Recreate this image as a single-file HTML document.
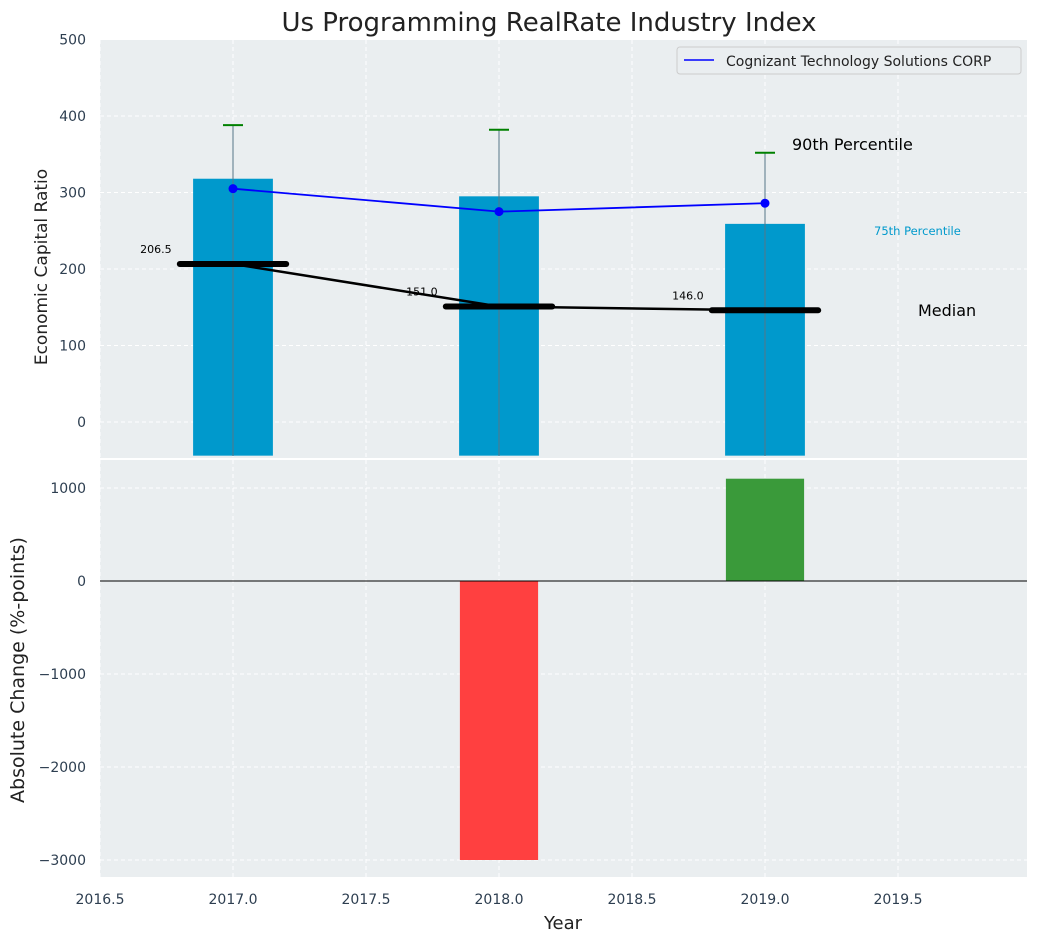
<!DOCTYPE html>
<html><head><meta charset="utf-8"><style>
body{margin:0;background:#fff;font-family:"Liberation Sans","DejaVu Sans",sans-serif}
svg text{font-family:"DejaVu Sans","Liberation Sans",sans-serif}
</style></head><body>
<svg id="c" width="1039" height="942" xmlns="http://www.w3.org/2000/svg"></svg>
<script>
const years=[2017,2018,2019];
const p75=[318,295,259];
const p90=[388,382,352];
const company=[305,275,286];
const medians=[206.5,151.0,146.0];
const changeYears=[2018,2019];
const changes=[-3000,1100];
const topTicks=[0,100,200,300,400,500];
const botTicks=[-3000,-2000,-1000,0,1000];
const xTicks=[2016.5,2017,2017.5,2018,2018.5,2019,2019.5];

const NS="http://www.w3.org/2000/svg";
const svg=document.getElementById('c');
function el(t,a,name,txt){const e=document.createElementNS(NS,t);for(const k in a)e.setAttribute(k,a[k]);


if(txt!==undefined)e.textContent=txt;svg.appendChild(e);return e;}
const L=100,R=1027;
const X=v=>L+(v-2016.5)*266;
const Y1=v=>422-v*0.765;
const Y2=v=>581-v*0.093;
const T1=40,B1=458,T2=460,B2=877;
el('rect',{x:L,y:T1,width:R-L,height:B1-T1,fill:'#eaeef0'},'top-plot-area');
el('rect',{x:L,y:T2,width:R-L,height:B2-T2,fill:'#eaeef0'},'bottom-plot-area');
xTicks.forEach(t=>{
 el('line',{x1:X(t),x2:X(t),y1:T1,y2:B1,stroke:'#fff','stroke-dasharray':'4,3'},'top-x-grid');
 el('line',{x1:X(t),x2:X(t),y1:T2,y2:B2,stroke:'#fff','stroke-dasharray':'4,3'},'bottom-x-grid');
 el('text',{x:X(t),y:904,'text-anchor':'middle','font-size':14,fill:'#2d3e50'},'x-tick-label',t.toFixed(1));
});
topTicks.forEach(t=>{
 el('line',{x1:L,x2:R,y1:Y1(t),y2:Y1(t),stroke:'#fff','stroke-dasharray':'4,3'},'top-y-grid');
 el('text',{x:86,y:Y1(t)+5,'text-anchor':'end','font-size':14,fill:'#2d3e50'},'top-y-tick-label',t);
});
botTicks.forEach(t=>{
 el('line',{x1:L,x2:R,y1:Y2(t),y2:Y2(t),stroke:'#fff','stroke-dasharray':'4,3'},'bottom-y-grid');
 el('text',{x:86,y:Y2(t)+5,'text-anchor':'end','font-size':14,fill:'#2d3e50'},'bottom-y-tick-label',(t<0?'\u2212'+(-t):t));
});
years.forEach((y,i)=>{
 el('rect',{x:X(y-0.15),y:Y1(p75[i]),width:0.3*266,height:Y1(-44)-Y1(p75[i]),fill:'#0099cc'},'bar-75th-'+y);
 el('line',{x1:X(y),x2:X(y),y1:Y1(p90[i]),y2:B1-2,stroke:'#557788','stroke-width':1},'whisker-'+y);
 el('line',{x1:X(y)-10,x2:X(y)+10,y1:Y1(p90[i]),y2:Y1(p90[i]),stroke:'green','stroke-width':2},'cap-90th-'+y);
});
el('polyline',{points:years.map((y,i)=>X(y)+','+Y1(medians[i])).join(' '),fill:'none',stroke:'#000','stroke-width':2.5},'median-line');
years.forEach((y,i)=>{
 el('line',{x1:X(y-0.2),x2:X(y+0.2),y1:Y1(medians[i]),y2:Y1(medians[i]),stroke:'#000','stroke-width':6,'stroke-linecap':'round'},'median-bar-'+y);
 el('text',{x:X(y-0.29),y:Y1(medians[i])-11,'text-anchor':'middle','font-size':11,fill:'#000'},'median-label-'+y,medians[i].toFixed(1));
});
el('polyline',{points:years.map((y,i)=>X(y)+','+Y1(company[i])).join(' '),fill:'none',stroke:'blue','stroke-width':1.8},'company-line');
years.forEach((y,i)=>el('circle',{cx:X(y),cy:Y1(company[i]),r:4.5,fill:'blue'},'company-point-'+y));
el('text',{x:792,y:150,'font-size':16,fill:'#000'},'label-90th','90th Percentile');
el('text',{x:874,y:235,'font-size':11.5,fill:'#0099cc'},'label-75th','75th Percentile');
el('text',{x:918,y:316,'font-size':16,fill:'#000'},'label-median','Median');
el('rect',{x:677,y:47,width:344,height:27,fill:'#eaeef0',stroke:'#ccc',rx:3},'legend-box');
el('line',{x1:684,x2:714,y1:60,y2:60,stroke:'blue','stroke-width':1.5},'legend-line');
el('text',{x:726,y:66,'font-size':14,fill:'#222'},'legend-entry','Cognizant Technology Solutions CORP');
changeYears.forEach((y,i)=>{
 const v=changes[i];
 el('rect',{x:X(y-0.147),y:Math.min(Y2(v),Y2(0)),width:0.294*266,height:Math.abs(Y2(v)-Y2(0)),fill:v<0?'#ff4040':'#3a9a3a'},'change-bar-'+y);
});
el('line',{x1:L,x2:R,y1:Y2(0),y2:Y2(0),stroke:'#000','stroke-width':1},'zero-line');
el('text',{x:549,y:31,'text-anchor':'middle','font-size':26,fill:'#222'},'chart-title','Us Programming RealRate Industry Index');
el('text',{x:563,y:929,'text-anchor':'middle','font-size':18,fill:'#222'},'x-axis-title','Year');
el('text',{x:47,y:267,'text-anchor':'middle','font-size':17,fill:'#222',transform:'rotate(-90 47 267)'},'top-y-axis-title','Economic Capital Ratio');
el('text',{x:24,y:670,'text-anchor':'middle','font-size':19,fill:'#222',transform:'rotate(-90 24 670)'},'bottom-y-axis-title','Absolute Change (%-points)');
</script>
</body></html>
